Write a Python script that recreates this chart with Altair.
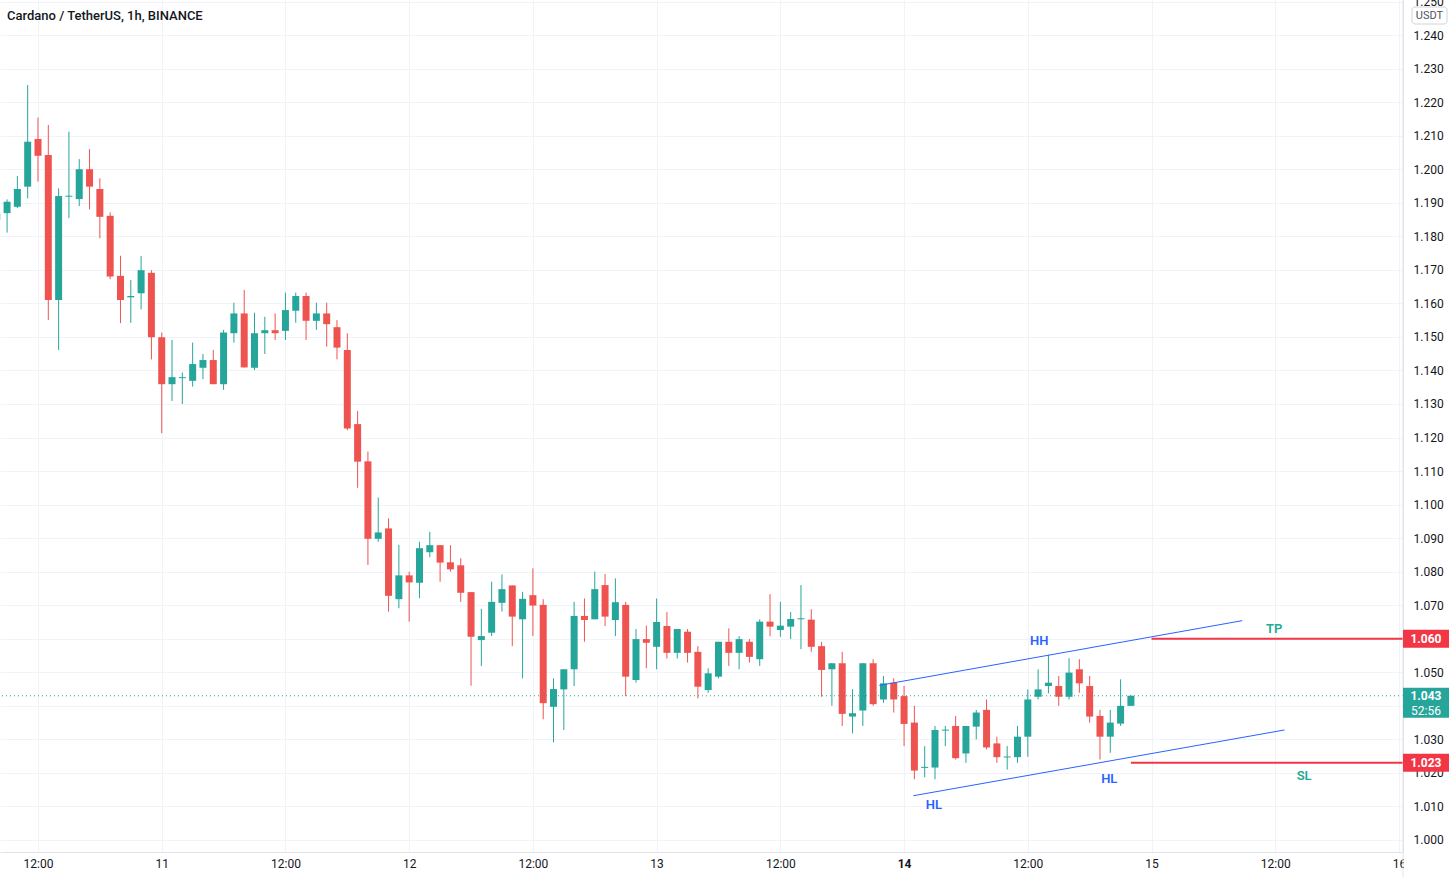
import altair as alt
import pandas as pd

# ---- candle data (hours since 10 Dec 00:00, 1h candles) ----
t_hours = list(range(8, 119))
opens = [1.1849, 1.1869, 1.1888, 1.1948, 1.2090, 1.2042, 1.1610, 1.1918, 1.1911, 1.2000,
         1.1941, 1.1861, 1.1682, 1.1618, 1.1630, 1.1691, 1.1499, 1.1359, 1.1377, 1.1369,
         1.1408, 1.1431, 1.1359, 1.1511, 1.1570, 1.1408, 1.1511, 1.1520, 1.1518, 1.1578,
         1.1622, 1.1548, 1.1570, 1.1529, 1.1461, 1.1240, 1.1129, 1.0898, 1.0929, 1.0718,
         1.0789, 1.0767, 1.0858, 1.0879, 1.0828, 1.0819, 1.0739, 1.0596, 1.0618, 1.0707,
         1.0759, 1.0658, 1.0730, 1.0701, 1.0397, 1.0449, 1.0509, 1.0668, 1.0658, 1.0760,
         1.0656, 1.0701, 1.0477, 1.0599, 1.0576, 1.0638, 1.0558, 1.0621, 1.0561, 1.0447,
         1.0487, 1.0591, 1.0558, 1.0591, 1.0539, 1.0651, 1.0626, 1.0636, 1.0658, 1.0657,
         1.0578, 1.0509, 1.0527, 1.0368, 1.0386, 1.0527, 1.0419, 1.0469, 1.0429, 1.0350,
         1.0215, 1.0216, 1.0326, 1.0340, 1.0258, 1.0338, 1.0388, 1.0288, 1.0246, 1.0247,
         1.0308, 1.0427, 1.0459, 1.0459, 1.0427, 1.0509, 1.0459, 1.0370, 1.0308, 1.0347,
         1.0400]
highs = [1.1880, 1.1910, 1.1980, 1.2251, 1.2154, 1.2132, 1.1943, 1.2112, 1.2030, 1.2060,
         1.1973, 1.1871, 1.1742, 1.1670, 1.1741, 1.1699, 1.1513, 1.1491, 1.1394, 1.1483,
         1.1449, 1.1461, 1.1521, 1.1602, 1.1640, 1.1572, 1.1560, 1.1570, 1.1632, 1.1632,
         1.1632, 1.1602, 1.1602, 1.1550, 1.1511, 1.1279, 1.1158, 1.1021, 1.0959, 1.0880,
         1.0800, 1.0889, 1.0919, 1.0879, 1.0879, 1.0840, 1.0739, 1.0689, 1.0770, 1.0792,
         1.0759, 1.0740, 1.0810, 1.0718, 1.0482, 1.0509, 1.0710, 1.0720, 1.0800, 1.0793,
         1.0780, 1.0710, 1.0629, 1.0639, 1.0720, 1.0680, 1.0629, 1.0629, 1.0578, 1.0512,
         1.0591, 1.0631, 1.0608, 1.0599, 1.0658, 1.0733, 1.0710, 1.0680, 1.0760, 1.0688,
         1.0591, 1.0527, 1.0561, 1.0449, 1.0527, 1.0539, 1.0489, 1.0482, 1.0459, 1.0400,
         1.0280, 1.0340, 1.0340, 1.0370, 1.0340, 1.0388, 1.0419, 1.0308, 1.0280, 1.0340,
         1.0449, 1.0509, 1.0552, 1.0489, 1.0542, 1.0539, 1.0489, 1.0388, 1.0388, 1.0479,
         1.0432]
lows = [1.1840, 1.1811, 1.1884, 1.1913, 1.1963, 1.1550, 1.1461, 1.1854, 1.1890, 1.1880,
        1.1794, 1.1672, 1.1541, 1.1542, 1.1582, 1.1433, 1.1213, 1.1309, 1.1300, 1.1352,
        1.1374, 1.1359, 1.1342, 1.1483, 1.1409, 1.1401, 1.1449, 1.1491, 1.1491, 1.1542,
        1.1491, 1.1521, 1.1471, 1.1433, 1.1222, 1.1050, 1.0820, 1.0889, 1.0681, 1.0691,
        1.0651, 1.0721, 1.0843, 1.0770, 1.0800, 1.0710, 1.0460, 1.0519, 1.0608, 1.0681,
        1.0578, 1.0482, 1.0608, 1.0360, 1.0291, 1.0328, 1.0459, 1.0591, 1.0658, 1.0638,
        1.0608, 1.0429, 1.0469, 1.0512, 1.0509, 1.0541, 1.0541, 1.0529, 1.0422, 1.0439,
        1.0482, 1.0519, 1.0509, 1.0529, 1.0519, 1.0608, 1.0606, 1.0599, 1.0569, 1.0561,
        1.0427, 1.0400, 1.0340, 1.0318, 1.0340, 1.0400, 1.0409, 1.0380, 1.0280, 1.0181,
        1.0187, 1.0181, 1.0280, 1.0240, 1.0230, 1.0300, 1.0270, 1.0230, 1.0210, 1.0230,
        1.0248, 1.0419, 1.0437, 1.0400, 1.0419, 1.0439, 1.0350, 1.0240, 1.0260, 1.0340,
        1.0400]
closes = [1.1869, 1.1903, 1.1941, 1.2082, 1.2040, 1.1610, 1.1920, 1.1921, 1.2000, 1.1948,
          1.1858, 1.1680, 1.1610, 1.1622, 1.1699, 1.1499, 1.1359, 1.1380, 1.1380, 1.1419,
          1.1431, 1.1359, 1.1513, 1.1570, 1.1409, 1.1511, 1.1520, 1.1511, 1.1580, 1.1622,
          1.1548, 1.1570, 1.1538, 1.1468, 1.1227, 1.1128, 1.0898, 1.0917, 1.0728, 1.0789,
          1.0768, 1.0870, 1.0879, 1.0827, 1.0807, 1.0737, 1.0606, 1.0608, 1.0710, 1.0748,
          1.0666, 1.0719, 1.0699, 1.0408, 1.0450, 1.0509, 1.0668, 1.0656, 1.0748, 1.0666,
          1.0709, 1.0487, 1.0599, 1.0588, 1.0650, 1.0558, 1.0629, 1.0558, 1.0457, 1.0497,
          1.0591, 1.0558, 1.0599, 1.0546, 1.0651, 1.0636, 1.0639, 1.0659, 1.0661, 1.0576,
          1.0507, 1.0527, 1.0376, 1.0378, 1.0527, 1.0405, 1.0467, 1.0419, 1.0346, 1.0207,
          1.0218, 1.0328, 1.0329, 1.0244, 1.0340, 1.0380, 1.0276, 1.0247, 1.0249, 1.0308,
          1.0419, 1.0449, 1.0469, 1.0427, 1.0499, 1.0467, 1.0368, 1.0308, 1.0350, 1.0400,
          1.0430]

# ---- axis ticks ----
x_tick_values = [12, 24, 36, 48, 60, 72, 84, 96, 108, 120, 132, 144]
x_tick_labels = ["12:00", "11", "12:00", "12", "12:00", "13", "12:00", "14", "12:00", "15", "12:00", "16"]
y_tick_values = [1.000, 1.010, 1.020, 1.030, 1.040, 1.050, 1.060, 1.070, 1.080, 1.090,
                 1.100, 1.110, 1.120, 1.130, 1.140, 1.150, 1.160, 1.170, 1.180, 1.190,
                 1.200, 1.210, 1.220, 1.230, 1.240, 1.250]

# ---- drawings ----
trend_t = [93.6, 96.9]
trend_p = [1.0461, 1.0132]
trend_t2 = [128.8, 132.9]
trend_p2 = [1.0654, 1.0328]

level_t = [120, 118]
level_p = [1.060, 1.023]
level_labels = ["1.060", "1.023"]

last_price = 1.043
last_label = "1.043"
countdown = "52:56"

wave_t = [109.1, 98.9, 115.9]
wave_p = [1.0593, 1.0104, 1.0182]
wave_text = ["HH", "HL", "HL"]
level_note_t = [131.9, 134.8]
level_note_p = [1.0629, 1.0191]
level_note_text = ["TP", "SL"]

title_text = "Cardano / TetherUS, 1h, BINANCE"
currency = "USDT"

UP = "#26a69a"
DOWN = "#ef5350"
BLUE = "#2962ff"
NOTE_TEAL = "#22ab94"
LEVEL_RED = "#f23645"
GRID = "#f0f3fa"
BORDER = "#e0e3eb"
TXT = "#131722"
FONT = "Roboto"

X_MAX = 144.39
X = alt.Scale(domain=[8.315, X_MAX], nice=False, zero=False, padding=0)
Y = alt.Scale(domain=[0.99642, 1.25045], nice=False, zero=False, padding=0)

df = pd.DataFrame({"t": t_hours, "open": opens, "high": highs, "low": lows, "close": closes})
df["dir"] = ["up" if c >= o else "down" for o, c in zip(opens, closes)]

label_expr = ""
for v, lab in zip(x_tick_values, x_tick_labels):
    label_expr += f"datum.value == {v} ? '{lab}' : "
label_expr += "''"

x_axis = alt.Axis(values=x_tick_values, labelExpr=label_expr, grid=True, gridColor=GRID,
                  ticks=False, domainColor=BORDER, labelColor=TXT, labelFontSize=12,
                  labelFont=FONT, labelPadding=6, title=None, labelFlush=False,
                  labelOverlap=False,
                  labelFontWeight={"condition": {"test": "datum.value == 96", "value": "bold"},
                                   "value": "normal"})
y_axis = alt.Axis(orient="right", values=y_tick_values,
                  format=".3f", grid=True, gridColor=GRID,
                  ticks=False, domainColor=BORDER, labelColor=TXT, labelFontSize=12,
                  labelFont=FONT, labelPadding=10, labelAlign="left", title=None,
                  labelFlush=False, labelOverlap=False, labelBound=False)

color = alt.Color("dir:N", scale=alt.Scale(domain=["up", "down"], range=[UP, DOWN]), legend=None)


def xq(field="t"):
    return alt.X(f"{field}:Q", scale=X, axis=x_axis)


def yq(field="p"):
    return alt.Y(f"{field}:Q", scale=Y, axis=y_axis)


wicks = alt.Chart(df).mark_rule(strokeWidth=1).encode(
    x=xq(), y=yq("low"), y2="high:Q", color=color,
)
bodies = alt.Chart(df).mark_bar(size=7).encode(
    x=xq(), y=yq("open"), y2="close:Q", color=color,
)

price_df = pd.DataFrame({"p": [last_price]})
price_line = alt.Chart(price_df).mark_rule(color=UP, strokeDash=[1, 3], strokeWidth=1).encode(
    y=yq()
)

trend_df = pd.DataFrame({"t": trend_t, "p": trend_p, "t2": trend_t2, "p2": trend_p2})
trends = alt.Chart(trend_df).mark_rule(color=BLUE, strokeWidth=1).encode(
    x=xq(), x2="t2:Q", y=yq(), y2="p2:Q"
)

level_df = pd.DataFrame({"t": level_t, "p": level_p, "lab": level_labels})
level_df["t2"] = X_MAX
levels = alt.Chart(level_df).mark_rule(color=LEVEL_RED, strokeWidth=2).encode(
    x=xq(), x2="t2:Q", y=yq()
)

wave_df = pd.DataFrame({"t": wave_t, "p": wave_p, "txt": wave_text})
wave_notes = alt.Chart(wave_df).mark_text(fontSize=13, fontWeight=600, font=FONT, color=BLUE).encode(
    x=xq(), y=yq(), text="txt:N"
)
lnote_df = pd.DataFrame({"t": level_note_t, "p": level_note_p, "txt": level_note_text})
level_notes = alt.Chart(lnote_df).mark_text(fontSize=13, fontWeight=600, font=FONT, color=NOTE_TEAL).encode(
    x=xq(), y=yq(), text="txt:N"
)

# price-axis tags
level_boxes = alt.Chart(level_df).mark_rule(color=LEVEL_RED, strokeWidth=18, strokeCap="butt").encode(
    x=alt.value(1403), x2=alt.value(1449), y=yq()
)
level_tags = alt.Chart(level_df).mark_text(color="white", fontSize=12, fontWeight="bold", font=FONT).encode(
    x=alt.value(1426), y=yq(), text="lab:N"
)
last_df = pd.DataFrame({"p": [last_price], "lab": [last_label], "cd": [countdown]})
last_box = alt.Chart(last_df).mark_rule(color=UP, strokeWidth=30, strokeCap="butt", yOffset=7).encode(
    x=alt.value(1403), x2=alt.value(1449), y=yq()
)
last_tag = alt.Chart(last_df).mark_text(color="white", fontSize=12, fontWeight="bold", font=FONT).encode(
    x=alt.value(1426), y=yq(), text="lab:N"
)
last_cd = alt.Chart(last_df).mark_text(color="white", fontSize=12, font=FONT, yOffset=15).encode(
    x=alt.value(1426), y=yq(), text="cd:N"
)

one = pd.DataFrame({"title": [title_text], "cur": [currency]})
cover = alt.Chart(one).mark_rect(color="white").encode(
    x=alt.value(1404), x2=alt.value(1456), y=alt.value(853), y2=alt.value(877)
)
axis_edge = alt.Chart(one).mark_rule(color=BORDER).encode(
    x=alt.value(1403), y=alt.value(0), y2=alt.value(877)
)
usdt_box = alt.Chart(one).mark_rect(fill="white", stroke="#d1d4dc", cornerRadius=3, strokeWidth=1).encode(
    x=alt.value(1412), x2=alt.value(1447), y=alt.value(7), y2=alt.value(24)
)
usdt_txt = alt.Chart(one).mark_text(fontSize=11, color="#50535e", font=FONT).encode(
    x=alt.value(1429.5), y=alt.value(16), text="cur:N"
)
title = alt.Chart(one).mark_text(fontSize=13, fontWeight=500, color=TXT, font=FONT, align="left").encode(
    x=alt.value(7), y=alt.value(16), text="title:N"
)

chart = alt.layer(
    wicks, bodies, price_line, trends, levels, wave_notes, level_notes,
    cover, axis_edge, level_boxes, level_tags, last_box, last_tag, last_cd,
    usdt_box, usdt_txt, title,
).properties(
    width=1403, height=852,
    padding={"left": 0, "top": 0, "right": 53, "bottom": 25},
    autosize="none", background="white"
).configure_view(stroke=None)

chart.save("out.html", embed_options={"renderer": "svg", "actions": False})
